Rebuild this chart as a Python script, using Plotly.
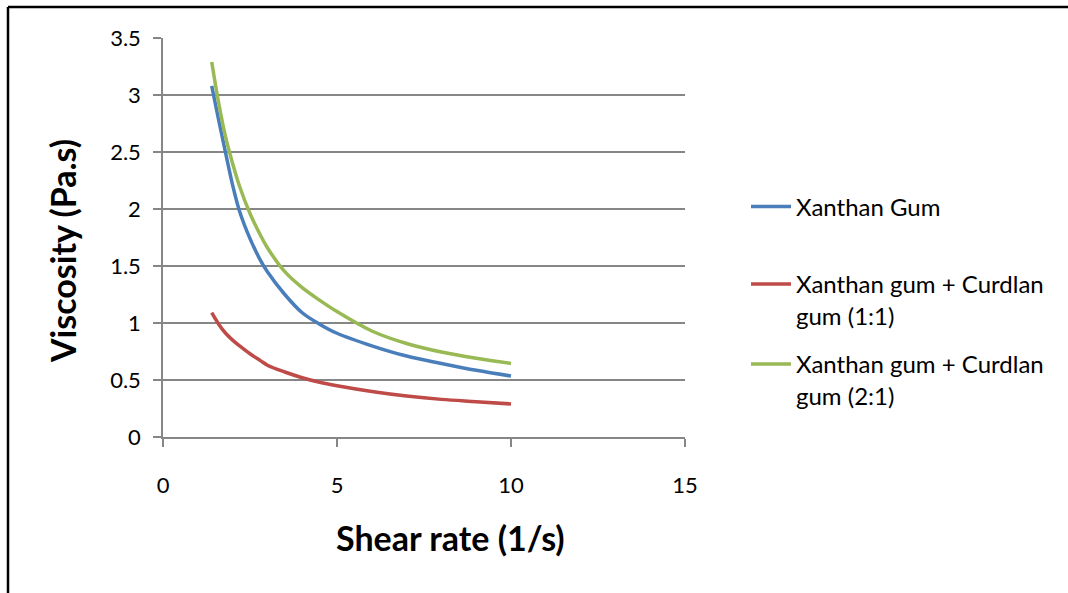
import plotly.graph_objects as go

shear_rate = [1.4, 1.6, 1.8, 2.0, 2.2, 2.5, 2.8, 3.0, 3.5, 4.0, 4.5, 5.0, 6.0, 7.0, 8.0, 9.0, 10.0]
xanthan = [3.08, 2.78, 2.49, 2.21, 1.98, 1.74, 1.55, 1.45, 1.25, 1.09, 0.99, 0.91, 0.80, 0.71, 0.645, 0.585, 0.535]
xc_11 = [1.09, 0.99, 0.91, 0.85, 0.80, 0.73, 0.67, 0.63, 0.57, 0.52, 0.48, 0.45, 0.40, 0.36, 0.33, 0.31, 0.29]
xc_21 = [3.29, 2.93, 2.63, 2.40, 2.20, 1.96, 1.77, 1.66, 1.45, 1.31, 1.20, 1.10, 0.93, 0.82, 0.745, 0.69, 0.645]

names = ["Xanthan Gum", "Xanthan gum + Curdlan<br>gum (1:1)", "Xanthan gum + Curdlan<br>gum (2:1)"]
colors = ["#4A7EBB", "#BE4B48", "#98B954"]
series = [xanthan, xc_11, xc_21]
legends = ["legend", "legend2", "legend3"]

FONT = "Lato, Carlito, Calibri, sans-serif"

fig = go.Figure()
for name, col, ys, lg in zip(names, colors, series, legends):
    fig.add_trace(go.Scatter(
        x=shear_rate, y=ys, name=name, mode="lines",
        line=dict(color=col, width=3.5, shape="spline", smoothing=1.0),
        legend=lg,
    ))

W, H = 1068, 593
L, R, T, B = 163, 1068 - 685, 38, 593 - 437
pw, ph = W - L - R, H - T - B

def px_x(px):
    return (px - L) / pw

def px_y(py):
    return (H - B - py) / ph

leg_common = dict(font=dict(family=FONT, size=24, color="#000"), bgcolor="rgba(0,0,0,0)",
                  borderwidth=0, xanchor="left", yanchor="middle", valign="top", itemwidth=40)

fig.update_layout(
    width=W, height=H,
    margin=dict(l=L, r=R, t=T, b=B, autoexpand=False),
    paper_bgcolor="white", plot_bgcolor="white",
    font=dict(family=FONT, size=21, color="#000"),
    showlegend=True,
    legend=dict(x=px_x(746), y=px_y(207), **leg_common),
    legend2=dict(x=px_x(746), y=px_y(300), **leg_common),
    legend3=dict(x=px_x(746), y=px_y(380), **leg_common),
    xaxis=dict(range=[0, 15], tickvals=[0, 5, 10, 15], showgrid=False,
               showline=True, linecolor="#868686", linewidth=1.5,
               ticks="outside", ticklen=8, tickcolor="#868686", tickwidth=1.5,
               ticklabelstandoff=20, zeroline=False,
               tickfont=dict(family=FONT, size=22, color="#000")),
    yaxis=dict(range=[0, 3.5], dtick=0.5, showgrid=True, gridcolor="#868686", gridwidth=1.5,
               showline=True, linecolor="#868686", linewidth=1.5,
               ticks="outside", ticklen=8, tickcolor="#868686", tickwidth=1.5,
               ticklabelstandoff=8, zeroline=False,
               tickfont=dict(family=FONT, size=22, color="#000")),
    annotations=[
        dict(text="<b>Shear rate (1/s)</b>", xref="paper", yref="paper",
             x=px_x(450), y=px_y(537), xanchor="center", yanchor="middle", showarrow=False,
             font=dict(family=FONT, size=34, color="#000")),
        dict(text="<b>Viscosity (Pa.s)</b>", xref="paper", yref="paper",
             x=px_x(62), y=px_y(251), xanchor="center", yanchor="middle", showarrow=False,
             textangle=-90, font=dict(family=FONT, size=34, color="#000")),
    ],
    shapes=[
        dict(type="line", xref="paper", yref="paper",
             x0=px_x(8), x1=px_x(1200), y0=px_y(7), y1=px_y(7),
             line=dict(color="#000", width=2.5), layer="below"),
        dict(type="line", xref="paper", yref="paper",
             x0=px_x(8), x1=px_x(8), y0=px_y(7), y1=px_y(700),
             line=dict(color="#000", width=2.5), layer="below"),
    ],
)

fig.write_html("out.html")
